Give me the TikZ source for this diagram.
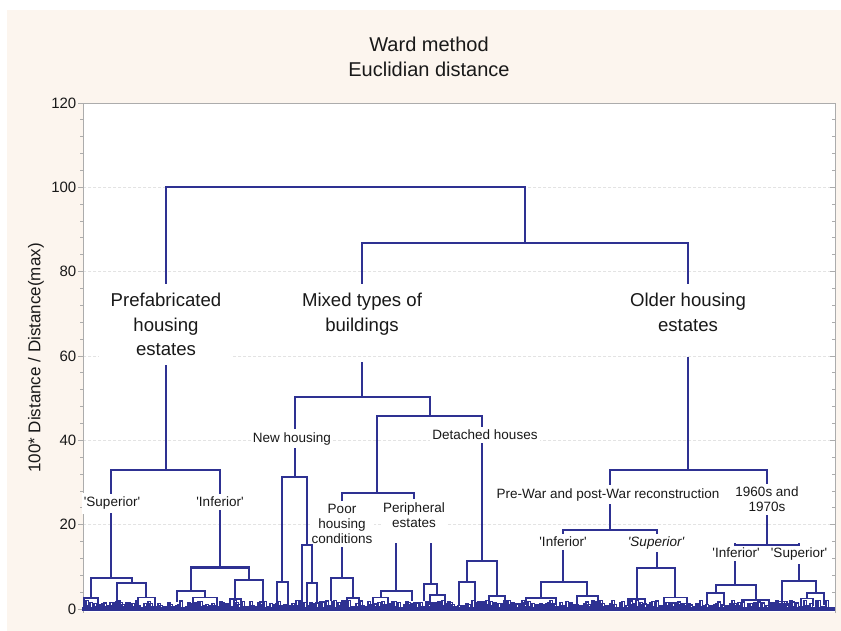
\documentclass[tikz,border=0pt]{standalone}
\usepackage{fontspec}
\setmainfont{Liberation Sans}
\definecolor{dendro}{RGB}{46,49,146}
\definecolor{paper}{RGB}{252,245,238}
\definecolor{ink}{RGB}{25,25,25}
\newcommand{\qname}[1]{\textquotesingle#1\textquotesingle}
\tikzset{
  lnk/.style={draw=dendro, line width=2.4pt},
  sublnk/.style={draw=dendro, line width=1.3pt},
  grp/.style={fill=white, text=ink, align=center, anchor=north, inner xsep=12pt, inner ysep=10pt, font=\fontsize{18.6}{24.5}\selectfont},
  lbl/.style={fill=white, text=ink, align=center, inner xsep=2pt, inner ysep=4pt, font=\fontsize{13.5}{15}\selectfont},
  gridln/.style={draw=gray!22, line width=0.8pt, dash pattern=on 3pt off 2pt},
  axln/.style={draw=gray!65, line width=0.8pt},
  ticklbl/.style={anchor=east, inner sep=0pt, text=ink, font=\fontsize{15}{15}\selectfont},
}

\begin{document}
\begin{tikzpicture}[x=1pt, y=4.217pt, line cap=rect]
	\useasboundingbox (0,-5.217) rectangle (841,144.415);
	\fill[white] (0,-5.217) rectangle (841,144.415);
	\fill[paper] (7,-5.217) rectangle (841,142.04);
	\fill[white] (83,-0.8) rectangle (835,120);
	% grid and axes
	\foreach \v in {20,40,...,100} \draw[gridln] (83,\v) -- (835,\v);
	\foreach \v in {0,4,...,120} {
		\draw[axln] (80.5,\v) -- (83,\v);
		\draw[axln] (835,\v) -- (832.5,\v);
	}
	\foreach \v in {0,20,...,120} {
		\draw[axln] (78.5,\v) -- (83,\v);
		\draw[axln] (835,\v) -- (830.5,\v);
		\node[ticklbl] (t\v) at (76.5,\v) {\v};
	}
	\draw[axln] (83,-0.8) -- (83,120) -- (835,120) -- (835,-0.8);
	\node[anchor=north, align=center, inner sep=0pt, text=ink, font=\fontsize{20}{24.3}\selectfont] (title) at (429,135.6) {Ward method\\Euclidian distance};
	\node[rotate=90, text=ink, font=\fontsize{17}{18}\selectfont] (ylab) at (36,59.5) {100* Distance / Distance(max)};

	% cluster labels
	\node[grp] (pf) at (166,77.3) {Prefabricated\\housing\\estates};
	\node[grp] (mx) at (362,77.3) {Mixed types of\\buildings};
	\node[grp] (old) at (688,77.3) {Older housing\\estates};
	\node[lbl, anchor=base] (pfs) at (112,24.19) {\qname{Superior}};
	\node[lbl, anchor=base] (pfi) at (220,24.19) {\qname{Inferior}};
	\node[lbl, anchor=base] (nh) at (292,39.6) {New housing};
	\node[lbl, anchor=base] (dh) at (485,40.1) {Detached houses};
	\node[lbl, anchor=north] (phc) at (342,25.85) {Poor\\housing\\conditions};
	\node[lbl, anchor=north] (pe) at (414,26.3) {Peripheral\\estates};
	\node[lbl, anchor=base] (pw) at (608,26.3) {Pre-War and post-War reconstruction};
	\node[lbl, anchor=base] (pwi) at (563,14.8) {\qname{Inferior}};
	\node[lbl, anchor=base] (pws) at (656,14.8) {\itshape\qname{Superior}};
	\node[lbl, anchor=north] (sx) at (767,29.9) {1960s and\\1970s};
	\node[lbl, anchor=base] (sxi) at (736,12.1) {\qname{Inferior}};
	\node[lbl, anchor=base] (sxs) at (799,12.1) {\qname{Superior}};

	% upper tree
	\draw[lnk] (pf.north) |- (525,100) -- (525,86.8);
	\draw[lnk] (mx.north) |- (688,86.8) -- (old.north);
	\draw[lnk] (pf.south) -- (166,33);
	\draw[lnk] (111,0 |- pfs.north) |- (166,33) -| (220,0 |- pfi.north);
	\draw[lnk] (111,0 |- pfs.south) -- (111,7.4);
	\draw[lnk] (pfi.south) -- (220,9.8);
	\draw[lnk] ([yshift=-18pt]mx.south) -- (362,50.3);
	\draw[lnk] (295,0 |- nh.north) |- (430,50.3) -- (430,45.8);
	\draw[lnk] (377,27.5) |- (482,45.8) -- (482,0 |- dh.north);
	\draw[lnk] (phc.north) |- (414,27.5) -- (pe.north);
	\draw[lnk] (295,0 |- nh.south) -- (295,31.3);
	\draw[lnk] (482,0 |- dh.south) -- (482,11.4);
	\draw[lnk] (phc.south) -- (342,7.4);
	\draw[lnk] (396,15.4) -- (396,4.3);
	\draw[lnk] (431,15.4) -- (431,5.9);
	\draw[lnk] ([yshift=-17pt]old.south) -- (688,33);
	\draw[lnk] (610,0 |- pw.north) |- (767,33) -- (sx.north);
	\draw[lnk] (610,0 |- pw.south) -- (610,18.7);
	\draw[lnk] (pwi.north) |- (657,18.7) -- (657,0 |- pws.north);
	\draw[lnk] (pwi.south) -- (563,6.4);
	\draw[lnk] (657,0 |- pws.south) -- (657,9.7);
	\draw[lnk] (sx.south) -- (767,15.2);
	\draw[lnk] (735,0 |- sxi.north) |- (799,15.2) -- (sxs.north);
	\draw[lnk] (735,0 |- sxi.south) -- (735,5.7);
	\draw[lnk] (sxs.south) -- (799,6.6);

	% lower merges: left/right/height/left leg/right leg
	\foreach \a/\b/\h/\l/\r in {91/132/7.4/2.6/6.2, 191/249/9.8/4.3/6.9, 282/307/31.3/6.4/15.2,
		302/312/15.2/0.2/6.2, 331/353/7.4/2.1/2.6, 467/497/11.4/6.4/3.1, 541/587/6.4/2.6/3.1,
		637/675/9.7/2.4/2.8, 716/756/5.7/3.8/2.1, 782/816/6.6/1.7/3.8}
		\draw[lnk] (\a,\l) |- (\b,\h) -- (\b,\r);
	\foreach \a/\b/\h/\l/\r in {84/98/2.6/1/0.5, 117/146/6.2/0.9/2.8, 138/155/2.8/0.5/0.8,
		177/205/4.3/1.7/2.8, 193/217/2.8/1/0.8, 235/263/6.9/2.4/0.5, 230/241/2.4/0.8/1,
		277/288/6.4/1.5/1, 307/317/6.2/1.2/1.4, 347/359/2.6/1/0.7, 381/412/4.3/2.8/2.1,
		373/388/2.8/0.8/1.2, 424/437/5.9/2.1/3.3, 430/445/3.3/1/0.8, 459/475/6.4/1.2/1.5,
		489/505/3.1/0.8/1, 526/556/2.6/1/1.2, 577/598/3.1/1/0.8, 628/645/2.4/0.8/1,
		664/687/2.8/1/1.2, 707/724/3.8/1/0.8, 742/769/2.1/0.8/1, 777/787/1.7/0.6/0.8,
		807/824/3.8/2.5/1.2, 801/813/2.5/0.6/0.8}
		\draw[sublnk] (\a,\l) |- (\b,\h) -- (\b,\r);

	% leaves
	\pgfmathsetseed{11}
	\foreach \x in {84,86,...,830} {
		\pgfmathsetmacro\hh{0.2+1.9*rnd}
		\draw[sublnk] (\x,-0.3) |- ({\x+2.6},\hh) -- ({\x+2.6},-0.3);
	}
	\draw[lnk, line width=4pt] (84,-0.1) -- (833,-0.1);
\end{tikzpicture}
\end{document}
